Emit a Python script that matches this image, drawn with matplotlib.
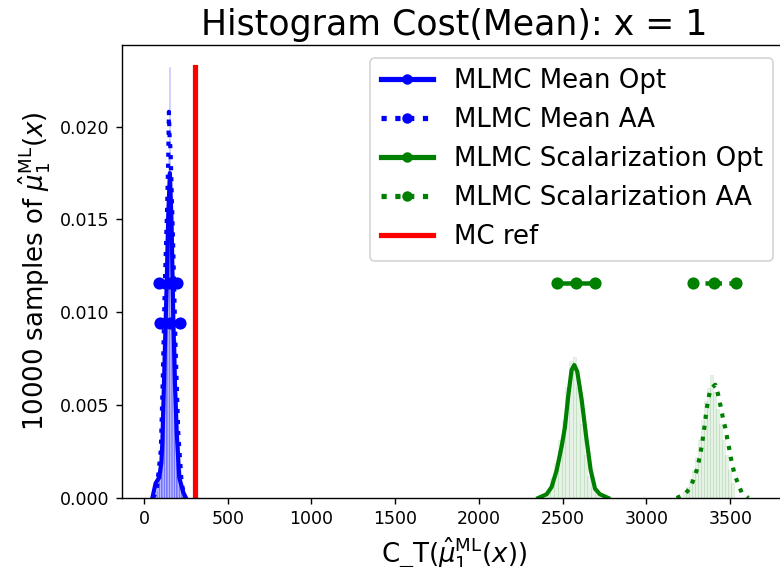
import numpy as np
import matplotlib
matplotlib.use("Agg")
import matplotlib.pyplot as plt
from matplotlib.lines import Line2D

# ==========================================
# DATA
# ==========================================

labels = [
    "MLMC Mean Opt",
    "MLMC Mean AA",
    "MLMC Scalarization Opt",
    "MLMC Scalarization AA",
]

# histogram densities (bin centres / heights)
mean_opt_bins = [75, 85, 95, 105, 115, 125, 135, 145, 155, 165, 175, 185, 195, 205, 215, 225, 235, 245]
mean_opt_hist = [0.0012, 0.0014, 0.0013, 0.0018, 0.0040, 0.0075, 0.0110, 0.0150, 0.0172, 0.0150,
                 0.0105, 0.0068, 0.0040, 0.0020, 0.0010, 0.0005, 0.0003, 0.0001]

mean_aa_bins = [65, 75, 85, 95, 105, 115, 125, 135, 145, 151, 165, 175, 185, 195, 205, 215, 225, 235]
mean_aa_hist = [0.0002, 0.0004, 0.0008, 0.0015, 0.0028, 0.0055, 0.0090, 0.0130, 0.0185, 0.0232,
                0.0160, 0.0120, 0.0085, 0.0055, 0.0030, 0.0015, 0.0007, 0.0003]

scal_opt_bins = [2416, 2438, 2460, 2482, 2504, 2526, 2548, 2570, 2592, 2614, 2636, 2658, 2680, 2702]
scal_opt_hist = [0.0005, 0.0011, 0.0019, 0.0031, 0.0042, 0.0060, 0.0074, 0.0076, 0.0060, 0.0040,
                 0.0023, 0.0012, 0.0006, 0.0002]

scal_aa_bins = [3228, 3246, 3264, 3282, 3300, 3318, 3336, 3354, 3372, 3390, 3408, 3426, 3444,
                3462, 3480, 3498, 3516]
scal_aa_hist = [0.0003, 0.0006, 0.0010, 0.0015, 0.0022, 0.0031, 0.0042, 0.0052, 0.0059, 0.0066,
                0.0057, 0.0048, 0.0040, 0.0031, 0.0023, 0.0015, 0.0008]

bin_widths = [10, 8, 22, 18]

# kde curves
mean_opt_kde_x = [50, 70, 91, 104, 110, 116, 125, 136, 145, 155, 165, 175, 185, 196, 211, 235, 251]
mean_opt_kde_y = [0, 0.0008, 0.0011, 0.0019, 0.0030, 0.0050, 0.0080, 0.0116, 0.0152, 0.0175,
                  0.0148, 0.0098, 0.0062, 0.0035, 0.0011, 0.0003, 0]

mean_aa_kde_x = [55, 76, 101, 112, 125, 138, 145, 149, 153, 159, 175, 189, 205, 225, 244]
mean_aa_kde_y = [0, 0.0004, 0.0026, 0.0062, 0.0116, 0.0155, 0.0182, 0.0208, 0.0195, 0.0187,
                 0.0134, 0.0080, 0.0035, 0.0008, 0]

scal_opt_kde_x = [2354, 2404, 2434, 2464, 2494, 2513, 2533, 2553, 2569, 2587, 2613, 2643, 2667,
                  2693, 2722, 2772]
scal_opt_kde_y = [0, 0.0002, 0.0006, 0.0015, 0.0028, 0.0038, 0.0055, 0.0069, 0.00716, 0.0068,
                  0.0053, 0.0031, 0.0015, 0.0005, 0.0002, 0]

scal_aa_kde_x = [3180, 3230, 3264, 3285, 3300, 3313, 3324, 3333, 3341, 3349, 3355, 3363, 3373,
                 3385, 3411, 3427, 3439, 3450, 3461, 3473, 3482, 3493, 3503, 3515, 3528, 3546,
                 3568, 3608]
scal_aa_kde_y = [0, 0.0002, 0.0006, 0.0011, 0.0015, 0.0020, 0.0025, 0.0030, 0.0035, 0.0040,
                 0.0045, 0.0050, 0.0055, 0.0059, 0.0061, 0.0056, 0.0051, 0.0046, 0.0041, 0.0037,
                 0.0032, 0.0027, 0.0022, 0.0017, 0.0012, 0.0008, 0.0003, 0]

# mean -/+ spread of each cost sample set
mean_opt_spread = [96, 155, 215]
mean_aa_spread = [90, 149, 197]
scal_opt_spread = [2466, 2579, 2693]
scal_aa_spread = [3278, 3403, 3534]
spread_levels = [0.0094, 0.0116, 0.0116, 0.0116]

mc_ref_cost = 303

# ==========================================
# FIGURE
# ==========================================

fig = plt.figure(figsize=(6.24, 4.536), dpi=125)
ax = fig.add_axes([0.1564, 0.1217, 0.8513, 0.799])

colors = ["blue", "blue", "green", "green"]
styles = ["-", ":", "-", ":"]
hist_alpha = [0.15, 0.15, 0.1, 0.1]

hists = [
    (mean_opt_bins, mean_opt_hist),
    (mean_aa_bins, mean_aa_hist),
    (scal_opt_bins, scal_opt_hist),
    (scal_aa_bins, scal_aa_hist),
]
kdes = [
    (mean_opt_kde_x, mean_opt_kde_y),
    (mean_aa_kde_x, mean_aa_kde_y),
    (scal_opt_kde_x, scal_opt_kde_y),
    (scal_aa_kde_x, scal_aa_kde_y),
]
spreads = [mean_opt_spread, mean_aa_spread, scal_opt_spread, scal_aa_spread]

for i in range(4):

    bins, dens = hists[i]
    ax.bar(
        bins,
        dens,
        width=bin_widths[i],
        color=colors[i],
        alpha=hist_alpha[i],
        edgecolor=colors[i],
        linewidth=0.4
    )

    kx, ky = kdes[i]
    ax.plot(kx, ky, color=colors[i], linestyle=styles[i], lw=2.4)

    ax.plot(
        spreads[i],
        [spread_levels[i]] * len(spreads[i]),
        color=colors[i],
        linestyle=styles[i],
        lw=2.6,
        marker="o",
        markersize=6
    )

# reference line up to the tallest bar
hist_max = max(max(h) for _, h in hists)
ax.plot([mc_ref_cost, mc_ref_cost], [0, hist_max], color="red", lw=3)

ax.set_xlim(-131, 3833)
ax.set_ylim(0, 0.0244)
ax.spines["right"].set_visible(False)

ax.tick_params(labelsize=10)
ax.set_title("Histogram Cost(Mean): x = 1", fontsize=20)
ax.set_xlabel(r"C_T($\hat{\mu}^{\mathrm{ML}}_1(x)$)", fontsize=15)
ax.set_ylabel(r"10000 samples of $\hat{\mu}^{\mathrm{ML}}_1(x)$", fontsize=15)

# ==========================================
# LEGEND
# ==========================================

handles = [
    Line2D([0], [0], color=colors[i], linestyle=styles[i], lw=3, marker="o", markersize=5)
    for i in range(4)
]
handles.append(Line2D([0], [0], color="red", lw=3))

ax.legend(handles, labels + ["MC ref"], loc="upper right", fontsize=15)

plt.savefig("out.png", dpi=125)
